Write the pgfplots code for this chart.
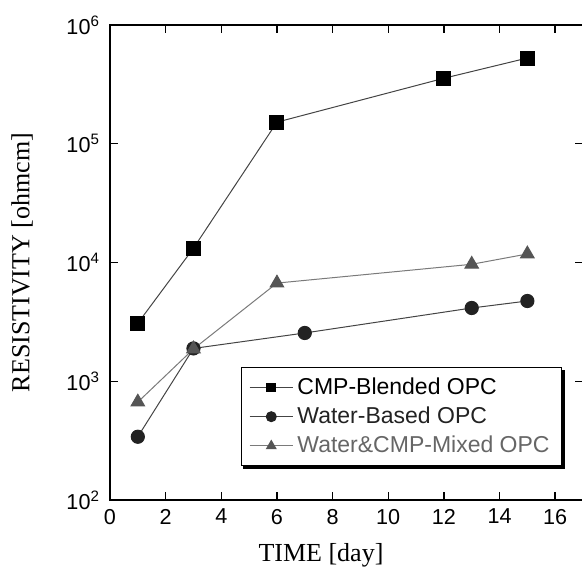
\documentclass[border=0pt]{standalone}
\usepackage{fontspec}
\setmainfont{Liberation Sans}
\newfontfamily\timesf{Liberation Serif}
\usepackage{pgfplots}
\pgfplotsset{compat=1.18}
\usetikzlibrary{backgrounds}
\definecolor{CircFill}{HTML}{222222}
\definecolor{TriFill}{HTML}{555555}
\definecolor{TriText}{HTML}{666666}
\definecolor{LineDark}{HTML}{444444}
\definecolor{LineLight}{HTML}{7A7A7A}
\begin{document}
\begin{tikzpicture}
  \begin{axis}[
    scale only axis,
    width=236.5pt,height=237.5pt,
    ymode=log,
    xmin=0,xmax=17,ymin=100,ymax=1000000,
    xtick={0,2,...,16},
    ytick={100,1000,10000,100000,1000000},
    yticklabels={10\textsuperscript{2},10\textsuperscript{3},10\textsuperscript{4},10\textsuperscript{5},10\textsuperscript{6}},
    yminorticks=false,
    tick align=inside,
    major tick length=4pt,
    axis line style={line width=0.7pt},
    tick style={black,line width=0.7pt},
    /pgf/number format/assume math mode=true,
    ticklabel style={font=\fontsize{10.8}{12}\selectfont},
    xticklabel style={yshift=-1pt},
    yticklabel style={xshift=-1.5pt},
    xlabel={TIME [day]},
    ylabel={RESISTIVITY [ohmcm]},
    xlabel style={font=\timesf\fontsize{13}{15}\selectfont,at={(axis description cs:0.446,-0.116)},anchor=center},
    ylabel style={font=\timesf\fontsize{13}{15}\selectfont,at={(axis description cs:-0.186,0.5)},anchor=center},
    legend image code/.code={\draw[mark repeat=2,mark phase=2,#1] plot coordinates {(0cm,0cm) (0.38cm,0cm) (0.76cm,0cm)};},
    legend style={name=leg,at={(axis description cs:0.956,0.28)},anchor=north east,
      draw=black,line width=0.6pt,fill=white,
      font=\fontsize{11.5}{13}\selectfont,
      legend cell align=left,row sep=0.8pt,inner xsep=4pt,inner ysep=3pt},
    ]
    \addplot[LineDark,line width=0.5pt,mark=square*,mark size=3.5pt,
      mark options={fill=black,draw=black,solid},
      legend image post style={mark size=2.2pt}]
      coordinates {(1,3080)(3,13200)(6,152000)(12,356000)(15,527000)};
    \addlegendentry{CMP-Blended OPC}
    \addplot[LineDark,line width=0.5pt,mark=*,mark size=3.3pt,
      mark options={fill=CircFill,draw=CircFill,solid},
      legend image post style={mark size=2.5pt}]
      coordinates {(1,341)(3,1890)(7,2550)(13,4140)(15,4740)};
    \addlegendentry{\textcolor{CircFill}{Water-Based OPC}}
    \addplot[LineLight,line width=0.5pt,mark=triangle*,mark size=3.9pt,
      mark options={fill=TriFill,draw=TriFill,solid},
      legend image post style={mark size=2.7pt}]
      coordinates {(1,668)(3,1870)(6,6710)(13,9660)(15,11800)};
    \addlegendentry{\textcolor{TriText}{Water\&CMP-Mixed OPC}}
  \end{axis}
  \begin{scope}[on background layer]
    \fill[black] ([shift={(1.4pt,-1.4pt)}]leg.south west) rectangle ([shift={(1.4pt,-1.4pt)}]leg.north east);
  \end{scope}
  \pgfresetboundingbox
  \path (-55pt,-37pt) rectangle (236pt,250pt);
\end{tikzpicture}
\end{document}
